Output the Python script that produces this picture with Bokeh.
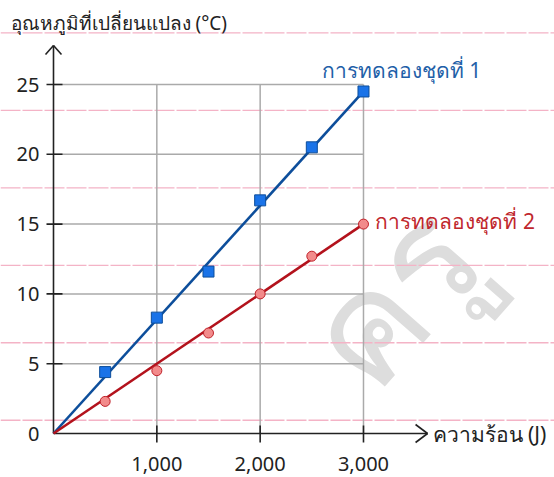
from bokeh.plotting import figure
from bokeh.models import Range1d
from bokeh.core.properties import value
from bokeh.embed import file_html
from bokeh.resources import INLINE

# ---- data ----
heat_j = [500, 1000, 1500, 2000, 2500, 3000]
temp_set1 = [4.4, 8.3, 11.6, 16.7, 20.5, 24.5]
temp_set2 = [2.3, 4.5, 7.2, 10.0, 12.7, 15.0]
fit_x = [0, 3000]
fit_set1 = [0, 24.5]
fit_set2 = [0, 15.0]
x_ticks = [1000, 2000, 3000]
x_tick_labels = ["1,000", "2,000", "3,000"]
y_ticks = [0, 5, 10, 15, 20, 25]
y_tick_labels = ["0", "5", "10", "15", "20", "25"]
series_names = ["การทดลองชุดที่ 1", "การทดลองชุดที่ 2"]
x_title = "ความร้อน (J)"
y_title = "อุณหภูมิที่เปลี่ยนแปลง (°C)"
watermark = "ครู"
x_axis_end = 3620
y_axis_end = 27.8
rule_lines = [28.7, 23.15, 17.6, 12.05, 6.5, 0.95]  # notebook paper lines

# ---- layout ----
W, H = 554, 477
ox, oy = 53, 433            # origin in figure px (from left / top)
sx = 103.33 / 1000          # px per J
sy = 13.96                  # px per degree
x0, x1 = -ox / sx, (W - ox) / sx
y0, y1 = -(H - oy) / sy, oy / sy
px_x = 1 / sx
px_y = 1 / sy

FONT = value("Noto Sans")

p = figure(width=W, height=H, output_backend="svg", toolbar_location=None,
           x_range=Range1d(x0, x1), y_range=Range1d(y0, y1),
           min_border=0)
p.xaxis.visible = False
p.yaxis.visible = False
p.xgrid.visible = False
p.ygrid.visible = False
p.outline_line_color = None

# watermark
p.text(x=[3250], y=[10.0], text=[watermark], angle=0.85, text_color="#dddddd",
       text_font=FONT, text_font_size="150px",
       text_align="center", text_baseline="middle")

# notebook rule lines
p.segment(x0=[x0] * len(rule_lines), x1=[x1] * len(rule_lines), y0=rule_lines, y1=rule_lines,
          line_color="#f4b3c6", line_width=1.3, line_dash="20 2")

# grid
p.segment(x0=x_ticks, x1=x_ticks, y0=[0] * len(x_ticks), y1=[max(y_ticks)] * len(x_ticks),
          line_color="#aaaaaa", line_width=1.5)
p.segment(x0=[0] * (len(y_ticks) - 1), x1=[max(x_ticks)] * (len(y_ticks) - 1),
          y0=y_ticks[1:], y1=y_ticks[1:], line_color="#aaaaaa", line_width=1.5)

# axes
AX = "#222222"
p.segment(x0=[0, 0], y0=[0, 0], x1=[x_axis_end, 0], y1=[0, y_axis_end], line_color=AX, line_width=1.6)
# arrow heads
p.segment(x0=[x_axis_end - 12 * px_x, x_axis_end - 12 * px_x], y0=[9 * px_y, -9 * px_y],
          x1=[x_axis_end, x_axis_end], y1=[0, 0], line_color=AX, line_width=1.6)
p.segment(x0=[-8 * px_x, 8 * px_x], y0=[y_axis_end - 9 * px_y, y_axis_end - 9 * px_y],
          x1=[0, 0], y1=[y_axis_end, y_axis_end], line_color=AX, line_width=1.6)
# ticks
p.segment(x0=[-7 * px_x] * (len(y_ticks) - 1), x1=[9 * px_x] * (len(y_ticks) - 1),
          y0=y_ticks[1:], y1=y_ticks[1:], line_color=AX, line_width=1.6)
p.segment(x0=x_ticks, x1=x_ticks, y0=[-9 * px_y] * len(x_ticks), y1=[8 * px_y] * len(x_ticks),
          line_color=AX, line_width=1.6)
# tick labels
p.text(x=[0] * len(y_ticks), y=y_ticks, text=y_tick_labels, x_offset=-14,
       text_align="right", text_baseline="middle", text_font=FONT,
       text_font_size="20px", text_color="#222222")
p.text(x=x_ticks, y=[0] * len(x_ticks), text=x_tick_labels, y_offset=30,
       text_align="center", text_baseline="middle", text_font=FONT,
       text_font_size="20px", text_color="#222222")
# axis titles
p.text(x=[x_axis_end], y=[0], text=[x_title], x_offset=5, text_align="left",
       text_baseline="middle", text_font=FONT, text_font_size="21px", text_color="#222222")
p.text(x=[0], y=[y_axis_end], text=[y_title], x_offset=-43, y_offset=-22,
       text_align="left", text_baseline="middle", text_font=FONT,
       text_font_size="19px", text_color="#222222")

# series 1
p.line(fit_x, fit_set1, line_color="#0d4e9b", line_width=2.6)
p.scatter(heat_j, temp_set1, marker="square", size=11, fill_color="#1a73e8",
          line_color="#0d4e9b", line_width=1)
# series 2
p.line(fit_x, fit_set2, line_color="#b3121c", line_width=2.6)
p.scatter(heat_j, temp_set2, marker="circle", size=10, fill_color="#f28b8b",
          line_color="#c0222a", line_width=1)

# series labels
p.text(x=[heat_j[-1]], y=[temp_set1[-1]], text=[series_names[0]], x_offset=38, y_offset=-21,
       text_align="center", text_baseline="middle", text_font=FONT,
       text_font_size="21px", text_color="#1f5fa8")
p.text(x=[heat_j[-1]], y=[temp_set2[-1]], text=[series_names[1]], x_offset=12, y_offset=-3,
       text_align="left", text_baseline="middle", text_font=FONT,
       text_font_size="21px", text_color="#c0272d")

open("out.html", "w").write(file_html(p, INLINE))
